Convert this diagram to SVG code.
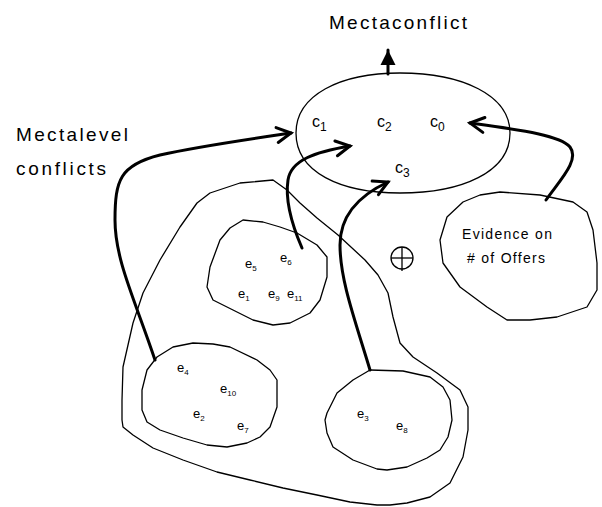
<svg xmlns="http://www.w3.org/2000/svg" width="602" height="507" viewBox="0 0 602 507">
<style>
.blob{fill:none;stroke:#000;stroke-width:1.3;stroke-linejoin:round}
.arr{fill:none;stroke:#000;stroke-width:3;stroke-linecap:round}
.t{font-family:"Liberation Sans",Arial,sans-serif;fill:#000}
.big{font-size:19px}
.c{font-size:16px}
.cs{font-size:12px}
.e{font-size:13px}
.es{font-size:8px}
.ev{font-size:14px}
</style>
<defs>
<marker id="vh" markerUnits="userSpaceOnUse" viewBox="-18 -10 22 20" refX="0" refY="0" markerWidth="22" markerHeight="20" orient="auto">
<path d="M-14,-7.5 L0,0 L-14,7.5" fill="none" stroke="#000" stroke-width="3" stroke-linecap="round" stroke-linejoin="miter"/>
</marker>
<marker id="tri" markerUnits="userSpaceOnUse" viewBox="-18 -10 22 20" refX="0" refY="0" markerWidth="22" markerHeight="20" orient="auto">
<path d="M-15,-7.5 L0,0 L-15,7.5 Z" fill="#000"/>
</marker>
</defs>
<rect width="602" height="507" fill="#fff"/>
<text class="t big" x="329" y="29" textLength="138" lengthAdjust="spacing">Mectaconflict</text>
<text class="t big" x="16" y="141" textLength="112" lengthAdjust="spacing">Mectalevel</text>
<text class="t big" x="16" y="175" textLength="90" lengthAdjust="spacing">conflicts</text>

<g id="outer">
<polygon class="blob" points="273,180 287,190 300,203 317,218 338,235 365,260 378,275 388,293 393,317 400,343 413,357 437,373 460,390 468,407 468,430 463,457 450,483 430,497 407,503 390,505 377,505 350,502 317,495 283,488 250,480 217,472 183,460 153,448 133,435 123,427 122,420 122,400 123,367 133,323 143,293 160,260 180,227 197,203 210,193 240,183"/>
</g>

<g id="meta">
<path class="blob" d="M296,133 C296,95 340,73 400,73 C462,73 510,95 510,133 C510,172 462,193 400,193 C340,193 296,172 296,133 Z"/>
<text class="t c" x="312" y="127">c<tspan class="cs" dy="4">1</tspan></text>
<text class="t c" x="377" y="127">c<tspan class="cs" dy="4">2</tspan></text>
<text class="t c" x="430" y="127">c<tspan class="cs" dy="4">0</tspan></text>
<text class="t c" x="395" y="173">c<tspan class="cs" dy="4">3</tspan></text>
</g>

<g id="n1">
<polygon class="blob" points="243,220 263,222 280,227 297,233 317,245 327,257 327,277 320,300 310,313 290,323 273,325 253,320 233,310 213,300 207,287 210,267 220,240 230,228"/>
<text class="t e" x="245" y="268">e<tspan class="es" dy="3">5</tspan></text>
<text class="t e" x="280" y="262">e<tspan class="es" dy="3">6</tspan></text>
<text class="t e" x="238" y="298">e<tspan class="es" dy="3">1</tspan></text>
<text class="t e" x="268" y="298">e<tspan class="es" dy="3">9</tspan></text>
<text class="t e" x="287" y="298">e<tspan class="es" dy="3">11</tspan></text>
</g>

<g id="n2">
<polygon class="blob" points="193,343 213,344 230,347 257,360 270,370 277,380 277,407 270,427 260,437 247,443 227,447 207,445 183,438 160,430 147,422 142,410 142,390 147,370 157,357 173,347"/>
<text class="t e" x="177" y="372">e<tspan class="es" dy="3">4</tspan></text>
<text class="t e" x="220" y="393">e<tspan class="es" dy="3">10</tspan></text>
<text class="t e" x="193" y="418">e<tspan class="es" dy="3">2</tspan></text>
<text class="t e" x="237" y="430">e<tspan class="es" dy="3">7</tspan></text>
</g>

<g id="n3">
<polygon class="blob" points="370,370 403,371 430,377 443,387 450,400 452,420 448,437 440,450 427,458 407,467 387,470 377,469 353,460 333,447 327,433 325,420 327,413 337,393 353,380"/>
<text class="t e" x="357" y="418">e<tspan class="es" dy="3">3</tspan></text>
<text class="t e" x="396" y="430">e<tspan class="es" dy="3">8</tspan></text>
</g>

<g id="evidence">
<polygon class="blob" points="500,192 540,195 573,202 587,212 593,230 597,263 597,290 587,307 557,317 530,320 507,320 487,307 460,287 443,263 440,240 447,217 463,202 480,195"/>
<text class="t ev" x="462" y="239" textLength="90" lengthAdjust="spacing">Evidence on</text>
<text class="t ev" x="467" y="263" textLength="78" lengthAdjust="spacing"># of Offers</text>
</g>

<g id="oplus" fill="none" stroke="#000" stroke-width="1.3">
<circle cx="402" cy="258" r="11"/>
<line x1="391" y1="258" x2="413" y2="258"/>
<line x1="402" y1="247" x2="402" y2="271"/>
</g>

<g id="connectors">
<path class="arr" d="M388,74 L388,50" marker-end="url(#tri)"/>
<path class="arr" d="M155,360 C135,300 115,260 115,220 C115,180 120,165 160,155 C200,146 250,139 291,133" marker-end="url(#vh)"/>
<path class="arr" d="M302,248 C292,225 285,200 288,180 C291,160 315,152 350,146" marker-end="url(#vh)"/>
<path class="arr" d="M370,370 C355,320 340,280 340,245 C340,215 360,195 388,182" marker-end="url(#vh)"/>
<path class="arr" d="M546,200 C560,180 580,160 570,147 C560,135 520,130 470,123" marker-end="url(#vh)"/>
</g>
</svg>
